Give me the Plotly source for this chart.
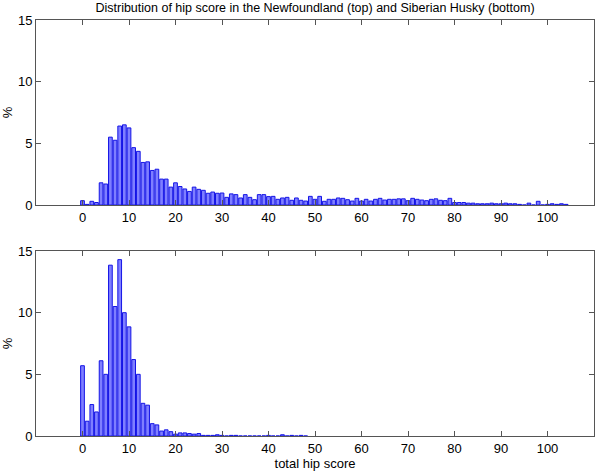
import plotly.graph_objects as go
from plotly.subplots import make_subplots

scores_nf = list(range(0, 105))
pct_nf = [0.35, 0.05, 0.3, 0.2, 1.8, 1.7, 5.5, 5.25, 6.4, 6.5,
          6.25, 4.65, 4.35, 3.45, 3.5, 2.8, 2.9, 2.1, 2.1, 1.45,
          1.8, 1.5, 1.3, 1.1, 1.45, 1.27, 1.19, 0.95, 1.05, 0.95,
          0.97, 0.62, 0.9, 0.84, 0.57, 0.84, 0.62, 0.43, 0.84, 0.84,
          0.68, 0.7, 0.46, 0.57, 0.62, 0.38, 0.57, 0.38, 0.32, 0.7,
          0.46, 0.7, 0.3, 0.46, 0.46, 0.57, 0.54, 0.43, 0.32, 0.54,
          0.32, 0.46, 0.32, 0.46, 0.54, 0.4, 0.46, 0.46, 0.5, 0.5,
          0.35, 0.54, 0.46, 0.4, 0.35, 0.46, 0.5, 0.38, 0.35, 0.54,
          0.2, 0.2, 0.2, 0.15, 0.15, 0.1, 0.1, 0.1, 0.15, 0.1,
          0.1, 0.15, 0.1, 0.1, 0.05, 0.0, 0.15, 0.0, 0.3, 0.0,
          0.05, 0.1, 0.05, 0.1, 0.05]

scores_sh = list(range(0, 49))
pct_sh = [5.7, 1.2, 2.55, 1.95, 6.1, 5.0, 13.85, 10.5, 14.3, 10.0,
          8.85, 6.2, 5.0, 2.65, 2.5, 1.0, 0.9, 0.4, 0.5, 0.35,
          0.15, 0.25, 0.25, 0.2, 0.15, 0.2, 0.05, 0.05, 0.05, 0.1,
          0.05, 0.0, 0.05, 0.05, 0.0, 0.0, 0.0, 0.0, 0.0, 0.0,
          0.05, 0.0, 0.0, 0.1, 0.0, 0.05, 0.0, 0.05, 0.0]

xticks = list(range(0, 101, 10))
yticks = [0, 5, 10, 15]
title_text = "Distribution of hip score in the Newfoundland (top) and Siberian Husky (bottom)"

fig = make_subplots(rows=2, cols=1)
bar_style = dict(marker=dict(color="rgba(0,0,255,0.5)",
                             line=dict(color="#1414e6", width=1)),
                 width=0.8, showlegend=False)
fig.add_trace(go.Bar(x=scores_nf, y=pct_nf, **bar_style), row=1, col=1)
fig.add_trace(go.Bar(x=scores_sh, y=pct_sh, **bar_style), row=2, col=1)

font = dict(family="Liberation Sans, Arial, sans-serif", size=13, color="black")
axis_common = dict(showline=True, linecolor="#555555", linewidth=1, mirror="ticks",
                   ticks="inside", ticklen=5, tickcolor="#555555", showgrid=False,
                   zeroline=False, tickfont=font, automargin=False)

fig.update_layout(
    width=600, height=471,
    margin=dict(l=36, r=6, t=20, b=35),
    paper_bgcolor="white", plot_bgcolor="white",
    bargap=0.2,
    title=dict(text=title_text, x=0.525, xanchor="center", y=0.984, yanchor="middle",
               font=dict(family="Liberation Sans, Arial, sans-serif", size=12.5, color="black")),
    xaxis=dict(range=[-10, 110], tickvals=xticks, domain=[0, 1], **axis_common),
    xaxis2=dict(range=[-10, 110], tickvals=xticks, domain=[0, 1],
                title=dict(text="total hip score", font=font, standoff=0), **axis_common),
    yaxis=dict(range=[0, 15], tickvals=yticks, domain=[0.5553, 1],
               title=dict(text="%", font=font, standoff=6), **axis_common),
    yaxis2=dict(range=[0, 15], tickvals=yticks, domain=[0, 0.4447],
                title=dict(text="%", font=font, standoff=6), **axis_common),
)

# remove the browser's default 8px body margin so the figure fills the window
fig.write_html("out.html", config={"displayModeBar": False},
               post_script="document.body.style.margin='0';")
